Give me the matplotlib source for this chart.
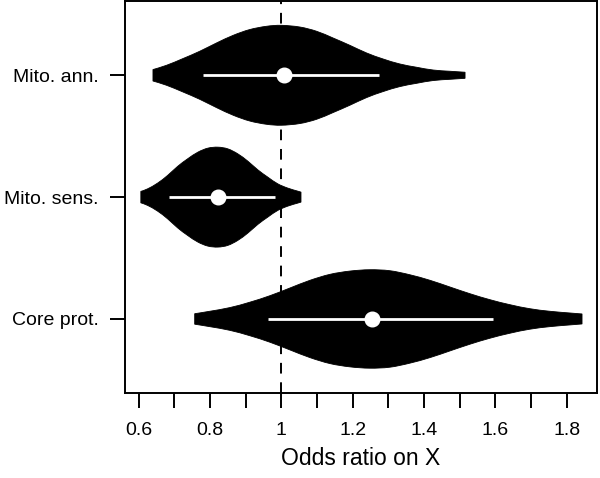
import numpy as np
import matplotlib
matplotlib.use("Agg")
import matplotlib.pyplot as plt
from matplotlib.path import Path
from matplotlib.patches import PathPatch

plt.rcParams['font.family'] = ['Liberation Sans', 'DejaVu Sans']

# group labels, top to bottom
labels = ["Mito. ann.", "Mito. sens.", "Core prot."]
ypos = [3, 2, 1]

# violin outlines: x positions and half widths
ann_x = [0.640, 0.678, 0.724, 0.771, 0.818, 0.865, 0.911, 0.958, 1.000, 1.052,
         1.099, 1.145, 1.192, 1.239, 1.285, 1.332, 1.379, 1.426, 1.473, 1.515]
ann_w = [0.047, 0.082, 0.137, 0.197, 0.265, 0.328, 0.375, 0.402, 0.410, 0.396,
         0.361, 0.306, 0.246, 0.183, 0.134, 0.093, 0.066, 0.043, 0.033, 0.025]

sens_x = [0.606, 0.625, 0.653, 0.681, 0.709, 0.737, 0.766, 0.794, 0.822, 0.850,
          0.878, 0.906, 0.934, 0.962, 0.990, 1.018, 1.046, 1.055]
sens_w = [0.047, 0.068, 0.115, 0.178, 0.252, 0.314, 0.369, 0.402, 0.410, 0.396,
          0.355, 0.295, 0.224, 0.164, 0.109, 0.074, 0.049, 0.041]

core_x = [0.757, 0.799, 0.855, 0.911, 0.968, 1.024, 1.080, 1.136, 1.192, 1.248,
          1.304, 1.360, 1.417, 1.473, 1.529, 1.585, 1.641, 1.697, 1.753, 1.809,
          1.843]
core_w = [0.043, 0.063, 0.093, 0.137, 0.191, 0.254, 0.317, 0.366, 0.393, 0.404,
          0.396, 0.363, 0.317, 0.262, 0.207, 0.158, 0.117, 0.084, 0.063, 0.049,
          0.041]

# white interval line and median dot
lo = [0.779, 0.685, 0.963]
hi = [1.274, 0.982, 1.594]
med = [1.007, 0.823, 1.253]

shapes = [(ann_x, ann_w), (sens_x, sens_w), (core_x, core_w)]


def smooth_edge(pts):
    # catmull-rom through the read points, as cubic bezier segments
    verts, codes = [], []
    n = len(pts)
    for i in range(n - 1):
        p0 = pts[max(i - 1, 0)]
        p1 = pts[i]
        p2 = pts[i + 1]
        p3 = pts[min(i + 2, n - 1)]
        c1 = p1 + (p2 - p0) / 6.0
        c2 = p2 - (p3 - p1) / 6.0
        verts += [c1, c2, p2]
        codes += [Path.CURVE4] * 3
    return verts, codes


def violin_path(xs, ws, y):
    xs = np.array(xs)
    ws = np.array(ws)
    top = np.column_stack([xs, y + ws])
    bot = np.column_stack([xs[::-1], y - ws[::-1]])
    verts = [top[0]]
    codes = [Path.MOVETO]
    v, c = smooth_edge(top)
    verts += v
    codes += c
    verts.append(bot[0])
    codes.append(Path.LINETO)
    v, c = smooth_edge(bot)
    verts += v
    codes += c
    verts.append(top[0])
    codes.append(Path.CLOSEPOLY)
    return Path(np.array(verts), codes)


fig = plt.figure(figsize=(6, 4.78), dpi=100)
ax = fig.add_axes([0.208, 0.178, 0.787, 0.820])

ax.axvline(1, color='black', lw=1.4, dashes=(5.5, 4.5), zorder=1)

for (xs, ws), y in zip(shapes, ypos):
    ax.add_patch(PathPatch(violin_path(xs, ws, y), facecolor='black',
                           edgecolor='black', lw=0.6, zorder=2))

for y, a, b, m in zip(ypos, lo, hi, med):
    ax.plot([a, b], [y, y], color='white', lw=2.0, solid_capstyle='butt', zorder=3)
    ax.plot(m, y, 'o', color='white', ms=10.5, mec='white', zorder=4)

ax.set_xlim(0.561, 1.885)
ax.set_ylim(0.393, 3.61)
ax.set_xticks(np.arange(0.6, 1.85, 0.1))
ax.set_xticklabels(["0.6", "", "0.8", "", "1", "", "1.2", "", "1.4", "", "1.6", "", "1.8"])
ax.set_yticks(ypos)
ax.set_yticklabels(labels)
ax.tick_params(axis='both', direction='out', length=11, width=1.4, labelsize=14)
ax.tick_params(axis='x', pad=10)
ax.tick_params(axis='y', pad=8)
for s in ax.spines.values():
    s.set_linewidth(1.4)
ax.set_xlabel("Odds ratio on X", fontsize=16.5, labelpad=6)

fig.savefig("out.png", dpi=100)
